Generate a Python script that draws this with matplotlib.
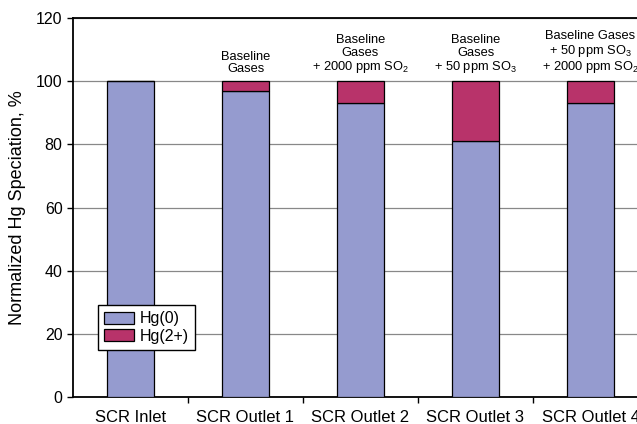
import numpy as np
import matplotlib
matplotlib.use("Agg")
import matplotlib.pyplot as plt

plt.rcParams['font.family'] = ['Liberation Sans', 'DejaVu Sans']
plt.rcParams['mathtext.fontset'] = 'custom'
plt.rcParams['mathtext.rm'] = 'Liberation Sans'
plt.rcParams['mathtext.it'] = 'Liberation Sans'

categories = ['SCR Inlet', 'SCR Outlet 1', 'SCR Outlet 2', 'SCR Outlet 3', 'SCR Outlet 4']
hg0 = [100, 97, 93, 81, 93]
hg2 = [0, 3, 7, 19, 7]
conditions = ['',
              'Baseline\nGases',
              'Baseline\nGases\n+ 2000 ppm SO$_\\mathregular{2}$',
              'Baseline\nGases\n+ 50 ppm SO$_\\mathregular{3}$',
              'Baseline Gases\n+ 50 ppm SO$_\\mathregular{3}$\n+ 2000 ppm SO$_\\mathregular{2}$']

blue = '#959bcf'
red = '#b8336a'

fig = plt.figure(figsize=(6.37, 4.24), dpi=100)
# axes runs a little past the right edge of the figure
ax = fig.add_axes([73/637, 27/424, 575/637, 379/424])

x = np.arange(len(categories))
w = 0.41
ax.bar(x, hg0, w, color=blue, edgecolor='black', linewidth=0.9, label='Hg(0)', zorder=3)
ax.bar(x, hg2, w, bottom=hg0, color=red, edgecolor='black', linewidth=0.9, label='Hg(2+)', zorder=3)

for i, t in enumerate(conditions):
    if t:
        ax.text(i, 101.8, t, ha='center', va='bottom', fontsize=9.3, linespacing=1.08)

ax.set_xlim(-0.5, len(categories) - 0.5)
ax.set_ylim(0, 120)
ax.set_yticks(range(0, 121, 20))
ax.yaxis.grid(True, color='#888888', linewidth=0.9, zorder=0)
ax.set_xticks(x)
ax.set_xticklabels(categories, fontsize=12)
ax.tick_params(axis='x', which='major', length=0, pad=9)
ax.set_xticks(np.arange(0.5, len(categories) - 1, 1), minor=True)
ax.tick_params(axis='x', which='minor', length=4, width=1)
ax.tick_params(axis='y', length=4, width=1, labelsize=11.5)
ax.set_ylabel('Normalized Hg Speciation, %', fontsize=13, labelpad=7)

for s in ['left', 'bottom', 'top']:
    ax.spines[s].set_linewidth(1.3)
ax.spines['right'].set_visible(False)

leg = ax.legend(loc='lower left', bbox_to_anchor=(0.043, 0.124), fontsize=11.5,
                fancybox=False, framealpha=1, edgecolor='black', borderaxespad=0,
                handlelength=1.9, handleheight=0.8, handletextpad=0.3,
                labelspacing=0.15, borderpad=0.4)
leg.get_frame().set_linewidth(1.0)
leg.set_zorder(5)

fig.savefig('out.png', dpi=100)
